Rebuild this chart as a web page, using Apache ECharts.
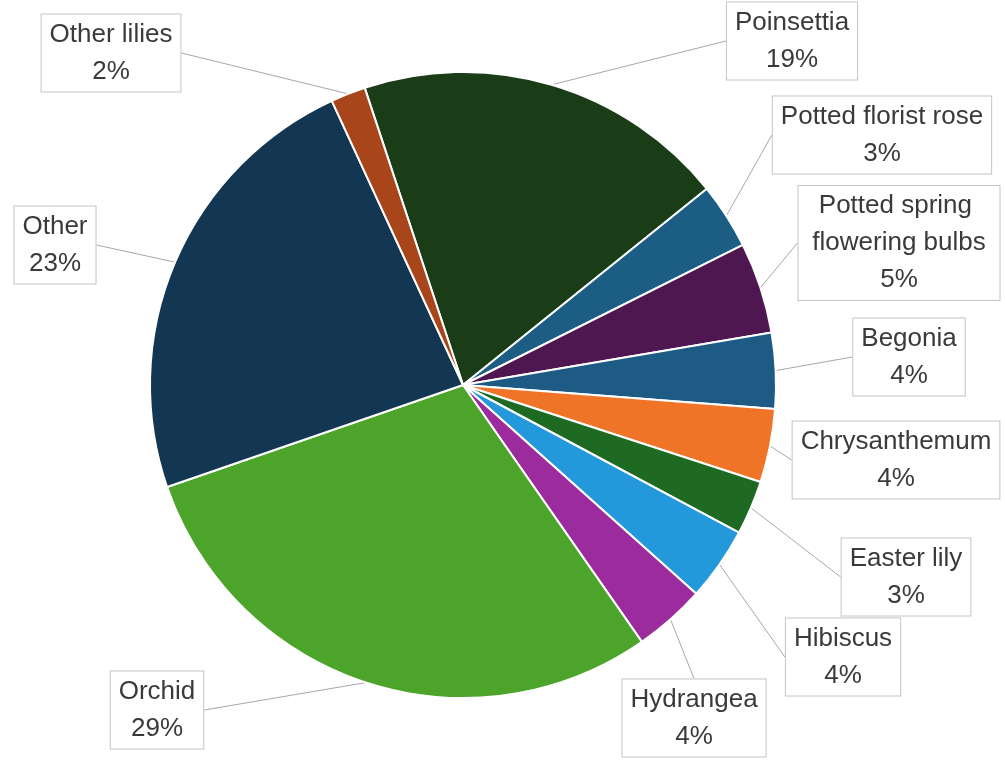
<!DOCTYPE html>
<html>
<head>
<meta charset="utf-8">
<script src="https://cdn.jsdelivr.net/npm/echarts@6/dist/echarts.min.js"></script>
<style>
  html, body { margin: 0; padding: 0; background: #fff; }
  #chart { width: 1005px; height: 761px; }
</style>
</head>
<body>
<div id="chart"></div>
<script>
// data (share in %)
const categories = [
  'Poinsettia', 'Potted florist rose', 'Potted spring flowering bulbs', 'Begonia',
  'Chrysanthemum', 'Easter lily', 'Hibiscus', 'Hydrangea', 'Orchid', 'Other', 'Other lilies'
]
const shares = [19.3, 3.4, 4.7, 3.9, 3.8, 2.8, 3.8, 3.7, 29.4, 23.4, 1.8]
const colors = [
  '#1a3d17', '#1c5d83', '#4f1752', '#1d5a84', '#f07427', '#1f6a23',
  '#2399dc', '#9c2b9d', '#4ca42a', '#133652', '#a9451a'
]

// where each label box sits (centre, px)
const labelCenters = [
  [792, 41], [882, 135], [899, 243], [909, 357], [896, 460], [906, 577],
  [843, 657], [694, 718], [157, 710], [55, 245], [111, 53]
]

const chart = echarts.init(document.getElementById('chart'))

const option = {
  backgroundColor: '#fff',
  animation: false,
  series: [
    {
      type: 'pie',
      center: [463, 385],
      radius: 313,
      startAngle: 108.3,
      clockwise: true,
      avoidLabelOverlap: false,
      itemStyle: {
        borderColor: '#fff',
        borderWidth: 2
      },
      label: {
        show: true,
        position: 'outside',
        fontFamily: 'Liberation Sans, Arial, sans-serif',
        fontSize: 26,
        lineHeight: 37,
        color: '#3a3a3a',
        align: 'center',
        backgroundColor: '#fff',
        borderColor: '#c4c4c4',
        borderWidth: 1,
        padding: [2, 8, 1, 8],
        formatter: (p) => p.name + '\n' + Math.round(p.percent) + '%'
      },
      labelLine: {
        show: true,
        length: 20,
        length2: 0,
        lineStyle: {
          color: '#a8a8a8',
          width: 1
        }
      },
      labelLayout: (params) => {
        const c = labelCenters[params.dataIndex]
        return {
          x: c[0],
          y: c[1],
          align: 'center',
          verticalAlign: 'middle'
        }
      },
      data: categories.map((name, i) => {
        const item = {
          name,
          value: shares[i],
          itemStyle: { color: colors[i] }
        }
        if (name === 'Potted spring flowering bulbs') {
          item.label = { width: 185, overflow: 'break' }
        }
        return item
      })
    }
  ]
}

chart.setOption(option)
</script>
</body>
</html>
